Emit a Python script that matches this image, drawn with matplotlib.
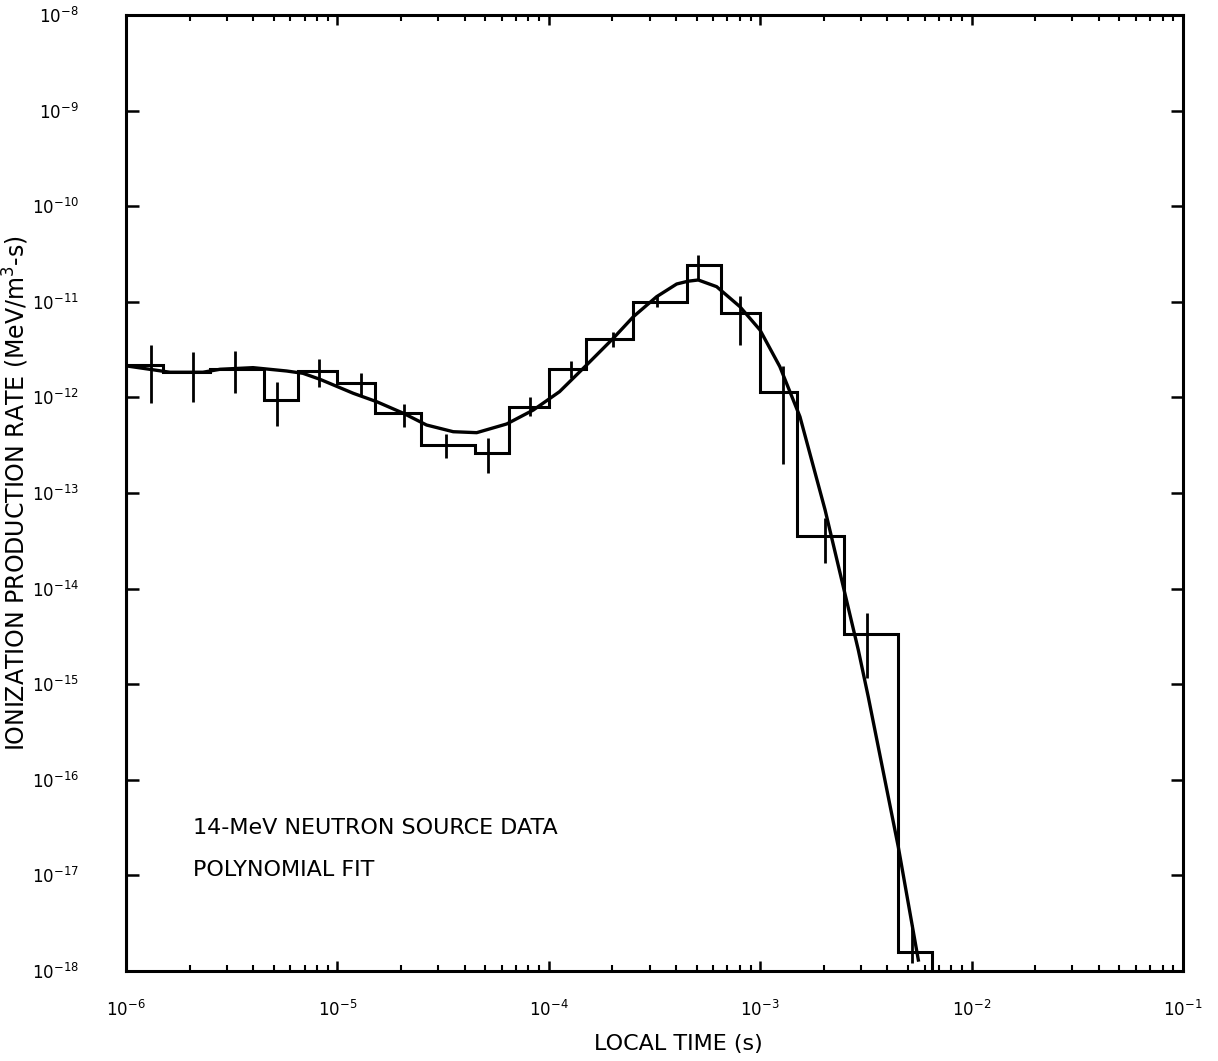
#!/usr/bin/env python
import numpy as np
import matplotlib
matplotlib.use("Agg")
import matplotlib.pyplot as plt
from matplotlib.ticker import LogLocator, NullLocator

# Histogram bin edges (s) and ionization production rate per bin (MeV/m^3-s)
bin_edges = [1e-6, 1.5e-6, 2.5e-6, 4.5e-6, 6.5e-6,
             1e-5, 1.5e-5, 2.5e-5, 4.5e-5, 6.5e-5,
             1e-4, 1.5e-4, 2.5e-4, 4.5e-4, 6.5e-4,
             1e-3, 1.5e-3, 2.5e-3, 4.5e-3, 6.5e-3]
bin_rate = [2.18e-12, 1.84e-12, 2.0e-12, 0.94e-12, 1.9e-12,
            1.4e-12, 0.68e-12, 0.32e-12, 0.264e-12, 0.79e-12,
            2.0e-12, 4.05e-12, 1.0e-11, 2.45e-11, 7.7e-12,
            1.15e-12, 3.57e-14, 3.33e-15, 1.6e-18]

# Error bars: position and lower/upper limits
err_t = [1.31e-6, 2.08e-6, 3.28e-6, 5.2e-6, 8.2e-6,
         1.30e-5, 2.07e-5, 3.25e-5, 5.14e-5, 8.15e-5,
         1.28e-4, 2.02e-4, 3.24e-4, 5.09e-4, 8.02e-4,
         1.28e-3, 2.03e-3, 3.21e-3, 5.25e-3]
err_lo = [0.87e-12, 0.90e-12, 1.1e-12, 0.5e-12, 1.27e-12,
          1.03e-12, 0.49e-12, 0.235e-12, 0.163e-12, 0.64e-12,
          1.58e-12, 3.39e-12, 0.88e-11, 1.71e-11, 3.53e-12,
          0.2e-12, 1.84e-14, 1.15e-15, 1.2e-18]
err_hi = [3.53e-12, 3.0e-12, 3.08e-12, 1.46e-12, 2.5e-12,
          1.81e-12, 0.85e-12, 0.41e-12, 0.38e-12, 1.0e-12,
          2.4e-12, 4.87e-12, 1.14e-11, 3.1e-11, 1.16e-11,
          2.13e-12, 5.43e-14, 5.52e-15, 3.03e-18]

# Polynomial fit, log10(t) vs log10(rate)
fit_log_t = [-6.0, -5.792, -5.636, -5.555, -5.399, -5.240, -5.163, -5.082,
             -4.925, -4.814, -4.688, -4.578, -4.452, -4.341, -4.199, -4.073,
             -3.949, -3.821, -3.695, -3.600, -3.490, -3.395, -3.342, -3.293,
             -3.206, -3.096, -3.001, -2.907, -2.812, -2.693, -2.607, -2.536,
             -2.489, -2.347, -2.252]
fit_log_rate = [-11.67, -11.737, -11.737, -11.706, -11.689, -11.724, -11.748, -11.811,
                -11.957, -12.045, -12.166, -12.289, -12.359, -12.369, -12.278, -12.132,
                -11.940, -11.661, -11.382, -11.156, -10.947, -10.814, -10.785, -10.772,
                -10.842, -11.051, -11.295, -11.679, -12.202, -13.178, -13.980, -14.642,
                -15.131, -16.700, -17.885]

plt.rcParams['font.family'] = ['DejaVu Sans']
plt.rcParams['mathtext.default'] = 'regular'

fig = plt.figure(figsize=(12.18, 10.61), dpi=100)
ax = fig.add_axes([0.1034, 0.0848, 0.8679, 0.9011])

ax.set_xscale('log')
ax.set_yscale('log')
ax.set_xlim(1e-6, 1e-1)
ax.set_ylim(1e-18, 1e-8)

# histogram of the source data
ax.stairs(bin_rate, bin_edges, baseline=1e-18, color='black', linewidth=2.2)

# error bars
ax.vlines(err_t, err_lo, err_hi, color='black', linewidth=2.0)

# fitted curve
ax.plot(10 ** np.array(fit_log_t), 10 ** np.array(fit_log_rate),
        color='black', linewidth=2.4)

# axes styling
for s in ax.spines.values():
    s.set_linewidth(2.2)

ax.xaxis.set_major_locator(LogLocator(base=10, numticks=10))
ax.xaxis.set_minor_locator(LogLocator(base=10, subs=np.arange(2, 10), numticks=20))
ax.yaxis.set_major_locator(LogLocator(base=10, numticks=12))
ax.yaxis.set_minor_locator(NullLocator())

ax.tick_params(axis='x', which='major', direction='in', top=True, length=7,
               width=1.8, labelsize=12, pad=21)
ax.tick_params(axis='x', which='minor', direction='in', top=True, length=4,
               width=1.5)
ax.tick_params(axis='y', which='major', direction='in', right=True, length=9,
               width=1.8, labelsize=12, pad=34)

ax.set_xlabel('LOCAL TIME (s)', fontsize=16)
ax.xaxis.set_label_coords(0.523, -0.066)
ax.set_ylabel('IONIZATION PRODUCTION RATE (MeV/m$^3$-s)', fontsize=17)
ax.yaxis.set_label_coords(-0.09, 0.5)

ax.text(2.08e-6, 2.71e-17, '14-MeV NEUTRON SOURCE DATA', fontsize=16)
ax.text(2.08e-6, 9.86e-18, 'POLYNOMIAL FIT', fontsize=16)

fig.savefig('out.png', dpi=100)
